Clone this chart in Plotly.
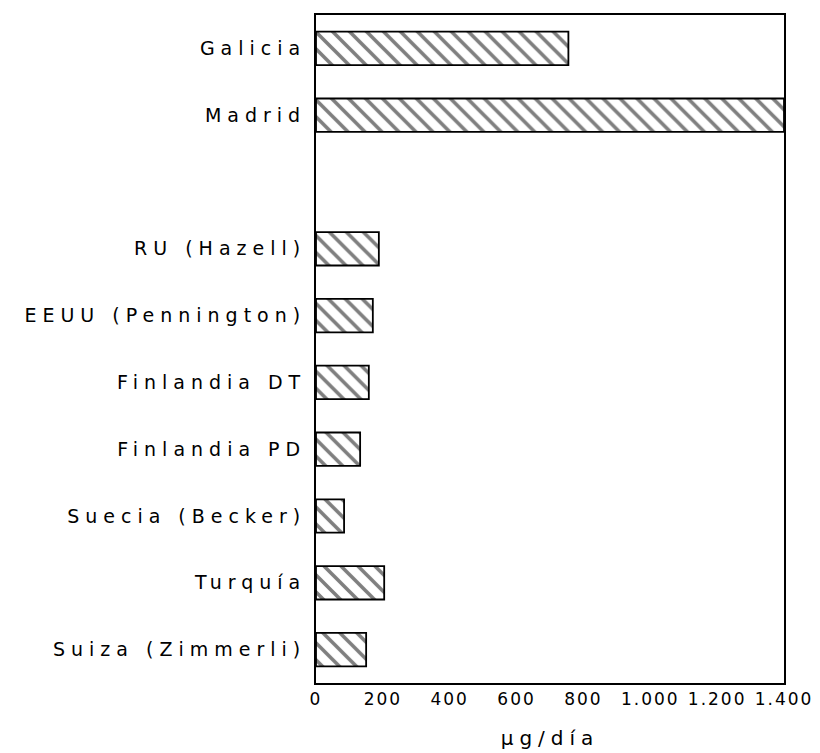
import plotly.graph_objects as go

# Data
categories = ["Galicia", "Madrid", "", "RU (Hazell)", "EEUU (Pennington)",
              "Finlandia DT", "Finlandia PD", "Suecia (Becker)", "Turquía",
              "Suiza (Zimmerli)"]
values = [755, 1400, None, 188, 170, 158, 132, 84, 204, 150]
x_ticks = [0, 200, 400, 600, 800, 1000, 1200, 1400]
x_ticklabels = ["0", "200", "400", "600", "800", "1.000", "1.200", "1.400"]
x_title = "µg/día"

FONT = "DejaVu Sans"
positions = list(range(len(categories)))


def spaced(txt, px):
    return f'<span style="letter-spacing:{px}px">{txt}</span>'


fig = go.Figure()
fig.add_trace(go.Bar(
    y=positions,
    x=values,
    orientation="h",
    width=0.5,
    marker=dict(
        color="white",
        line=dict(color="black", width=1.8),
        pattern=dict(shape="\\", size=12, solidity=0.3,
                     fgcolor="black", bgcolor="white"),
    ),
    showlegend=False,
))

tick_pos = [p for p, c in zip(positions, categories) if c]
tick_txt = [spaced(c, 6) for c in categories if c]

# page has an 8px body margin, so the figure is 812x745 and offsets are compensated
fig.update_layout(
    width=812, height=745,
    margin=dict(l=308, r=36, t=7, b=70, autoexpand=False),
    paper_bgcolor="white", plot_bgcolor="white",
    font=dict(family=FONT, color="black", size=19),
    bargap=0.5,
)
fig.update_yaxes(
    range=[len(categories) - 0.5, -0.5],
    tickmode="array", tickvals=tick_pos, ticktext=tick_txt,
    ticks="", showgrid=False, zeroline=False,
    showline=True, mirror=True, linecolor="black", linewidth=2,
    tickfont=dict(family=FONT, size=19, color="black"),
    ticklabelstandoff=4, automargin=False,
)
fig.update_xaxes(
    range=[0, 1400],
    tickmode="array", tickvals=x_ticks,
    ticktext=[spaced(t, 2) for t in x_ticklabels],
    ticks="", showgrid=False, zeroline=False,
    showline=True, mirror=True, linecolor="black", linewidth=2,
    tickfont=dict(family=FONT, size=17, color="black"),
    automargin=False,
    title=dict(text=spaced(x_title, 6), standoff=23,
               font=dict(family=FONT, size=20, color="black")),
)

fig.write_html("out.html")
